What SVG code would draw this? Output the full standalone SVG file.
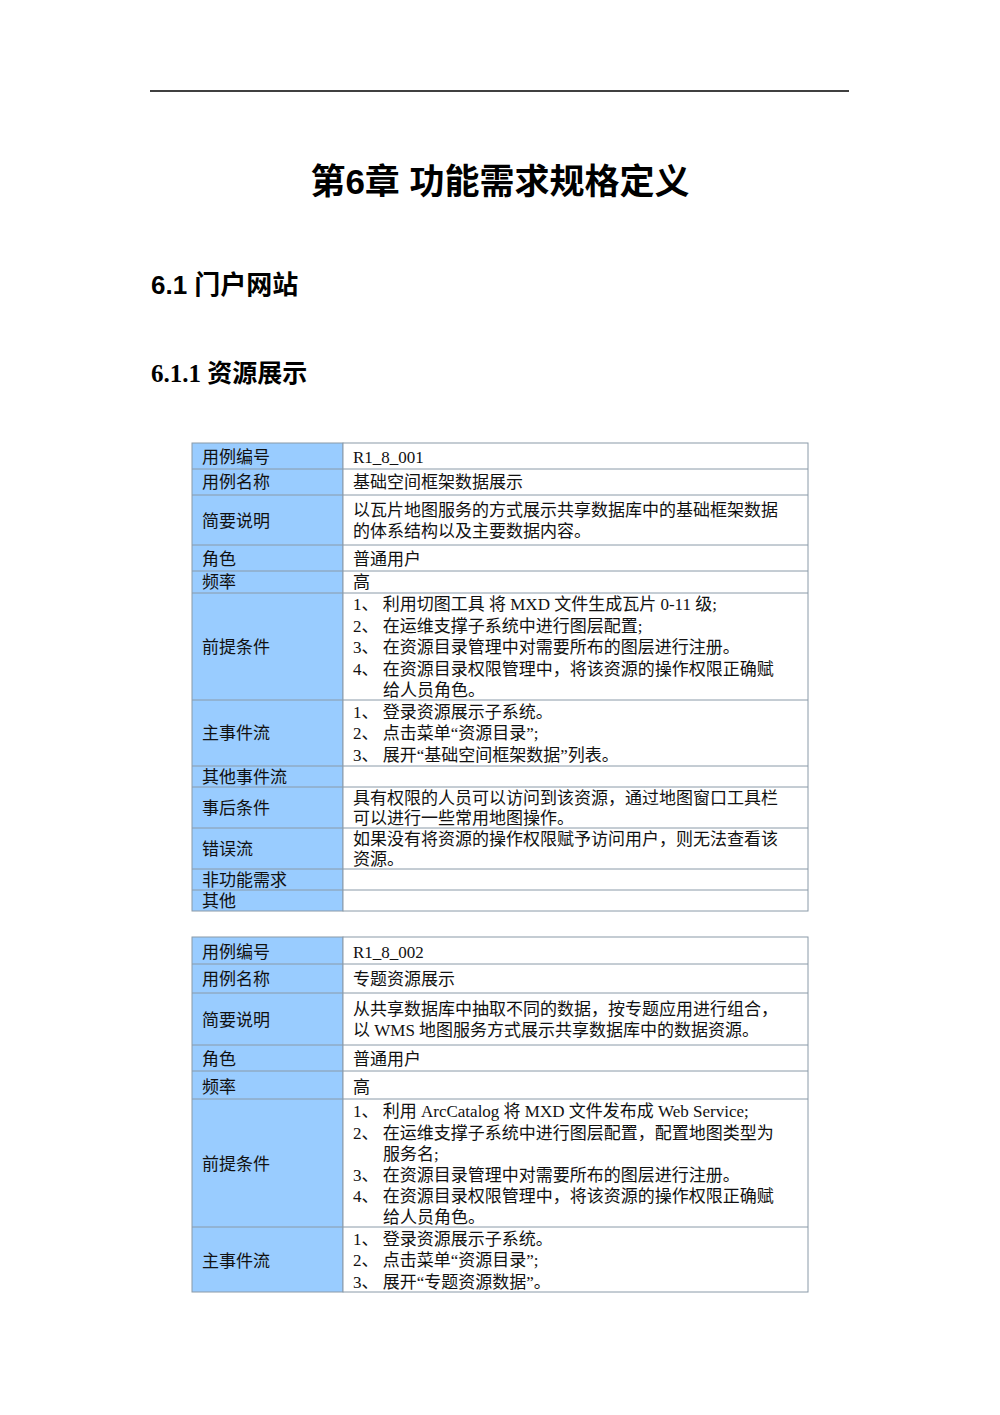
<svg xmlns="http://www.w3.org/2000/svg" width="1000" height="1415" viewBox="0 0 1000 1415">
<style>
.t{font-family:"Liberation Serif","Noto Sans CJK SC",serif;font-size:17px;fill:#111}
.h{font-family:"Liberation Sans","Noto Sans CJK SC",sans-serif;font-weight:bold;fill:#000}
.c{fill:#99ccff;stroke:#8a9aa8;stroke-width:1}
.v{fill:#fff;stroke:#8a9aa8;stroke-width:1}
</style>
<rect width="1000" height="1415" fill="#fff"/>
<line x1="150" y1="91" x2="849" y2="91" stroke="#000" stroke-width="1.5"/>
<text class="h" x="500" y="194" font-size="35" text-anchor="middle">第6章 功能需求规格定义</text>
<text class="h" x="151" y="294" font-size="26">6.1 门户网站</text>
<text class="h" x="151" y="382" font-size="25" style="font-family:'Liberation Serif','Noto Sans CJK SC',serif">6.1.1 资源展示</text>
<g id="table1">
<rect class="c" x="192" y="443" width="151" height="468"/>
<rect class="v" x="343" y="443" width="465" height="468"/>
<g stroke="#8a9aa8" stroke-width="1">
<line x1="192" y1="469" x2="808" y2="469"/><line x1="192" y1="495" x2="808" y2="495"/>
<line x1="192" y1="545" x2="808" y2="545"/><line x1="192" y1="571" x2="808" y2="571"/>
<line x1="192" y1="593" x2="808" y2="593"/><line x1="192" y1="700" x2="808" y2="700"/>
<line x1="192" y1="766" x2="808" y2="766"/><line x1="192" y1="787" x2="808" y2="787"/>
<line x1="192" y1="828" x2="808" y2="828"/><line x1="192" y1="869" x2="808" y2="869"/>
<line x1="192" y1="890" x2="808" y2="890"/>
</g>
<text class="t" x="202" y="463">用例编号</text><text class="t" x="353" y="463">R1_8_001</text>
<text class="t" x="202" y="488">用例名称</text><text class="t" x="353" y="488">基础空间框架数据展示</text>
<text class="t" x="202" y="527">简要说明</text>
<text class="t" x="353" y="516">以瓦片地图服务的方式展示共享数据库中的基础框架数据</text>
<text class="t" x="353" y="537">的体系结构以及主要数据内容。</text>
<text class="t" x="202" y="565">角色</text><text class="t" x="353" y="565">普通用户</text>
<text class="t" x="202" y="588">频率</text><text class="t" x="353" y="588">高</text>
<text class="t" x="202" y="653">前提条件</text>
<text class="t" x="353" y="610">1、 利用切图工具 将 MXD  文件生成瓦片 0-11 级;</text>
<text class="t" x="353" y="632">2、 在运维支撑子系统中进行图层配置;</text>
<text class="t" x="353" y="653">3、 在资源目录管理中对需要所布的图层进行注册。</text>
<text class="t" x="353" y="675">4、 在资源目录权限管理中，将该资源的操作权限正确赋</text>
<text class="t" x="383" y="696">给人员角色。</text>
<text class="t" x="202" y="739">主事件流</text>
<text class="t" x="353" y="718">1、 登录资源展示子系统。</text>
<text class="t" x="353" y="739">2、 点击菜单“资源目录”;</text>
<text class="t" x="353" y="761">3、 展开“基础空间框架数据”列表。</text>
<text class="t" x="202" y="783">其他事件流</text>
<text class="t" x="202" y="814">事后条件</text>
<text class="t" x="353" y="804">具有权限的人员可以访问到该资源，通过地图窗口工具栏</text>
<text class="t" x="353" y="824">可以进行一些常用地图操作。</text>
<text class="t" x="202" y="855">错误流</text>
<text class="t" x="353" y="845">如果没有将资源的操作权限赋予访问用户，则无法查看该</text>
<text class="t" x="353" y="865">资源。</text>
<text class="t" x="202" y="886">非功能需求</text>
<text class="t" x="202" y="907">其他</text>
</g>
<g id="table2">
<rect class="c" x="192" y="937" width="151" height="355"/>
<rect class="v" x="343" y="937" width="465" height="355"/>
<g stroke="#8a9aa8" stroke-width="1">
<line x1="192" y1="964" x2="808" y2="964"/><line x1="192" y1="993" x2="808" y2="993"/>
<line x1="192" y1="1045" x2="808" y2="1045"/><line x1="192" y1="1071" x2="808" y2="1071"/>
<line x1="192" y1="1099" x2="808" y2="1099"/><line x1="192" y1="1227" x2="808" y2="1227"/>
</g>
<text class="t" x="202" y="958">用例编号</text><text class="t" x="353" y="958">R1_8_002</text>
<text class="t" x="202" y="985">用例名称</text><text class="t" x="353" y="985">专题资源展示</text>
<text class="t" x="202" y="1026">简要说明</text>
<text class="t" x="353" y="1015">从共享数据库中抽取不同的数据，按专题应用进行组合，</text>
<text class="t" x="353" y="1036">以 WMS 地图服务方式展示共享数据库中的数据资源。</text>
<text class="t" x="202" y="1065">角色</text><text class="t" x="353" y="1065">普通用户</text>
<text class="t" x="202" y="1093">频率</text><text class="t" x="353" y="1093">高</text>
<text class="t" x="202" y="1170">前提条件</text>
<text class="t" x="353" y="1117">1、 利用 ArcCatalog  将 MXD  文件发布成 Web  Service;</text>
<text class="t" x="353" y="1139">2、 在运维支撑子系统中进行图层配置，配置地图类型为</text>
<text class="t" x="383" y="1160">服务名;</text>
<text class="t" x="353" y="1181">3、 在资源目录管理中对需要所布的图层进行注册。</text>
<text class="t" x="353" y="1202">4、 在资源目录权限管理中，将该资源的操作权限正确赋</text>
<text class="t" x="383" y="1223">给人员角色。</text>
<text class="t" x="202" y="1267">主事件流</text>
<text class="t" x="353" y="1245">1、 登录资源展示子系统。</text>
<text class="t" x="353" y="1266">2、 点击菜单“资源目录”;</text>
<text class="t" x="353" y="1288">3、 展开“专题资源数据”。</text>
</g>
</svg>
